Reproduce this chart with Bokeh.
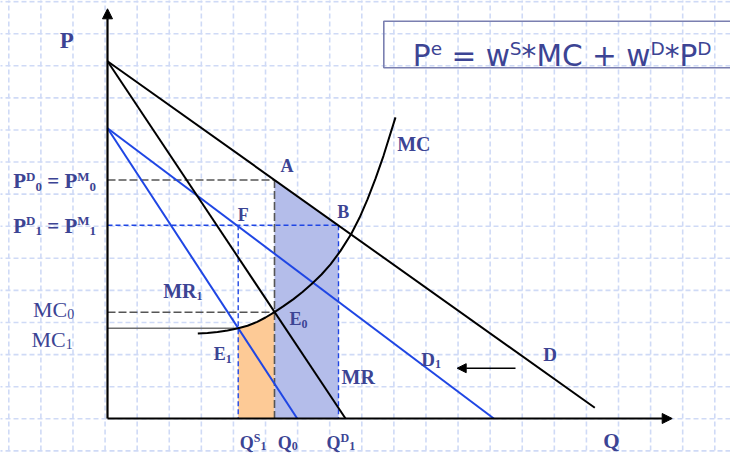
import numpy as np
from bokeh.plotting import figure
from bokeh.models import Range1d, Arrow, NormalHead
from bokeh.core.properties import value
from bokeh.embed import file_html
from bokeh.resources import INLINE

# ---------------- data (quantity on x, price on y; arbitrary units) ----------------
D_x = [0.0, 487.3]
D_y = [357.3, 10.7]
MR_x = [0.0, 238.0]
MR_y = [357.3, 0.0]
D1_x = [0.0, 386.3]
D1_y = [290.3, 0.0]
MR1_x = [0.0, 189.7]
MR1_y = [290.3, 0.0]
MC_x = [90.3, 100, 110, 120, 130.7, 140, 149.7, 158, 167, 176, 186, 195, 204.7,
        214, 223, 233, 243.7, 252, 260, 268, 276, 288]
MC_y = [85.0, 85.6, 86.4, 88.0, 90.3, 92.8, 96.6, 101.0, 106.3, 112.4, 119.4, 126.5, 135.0,
        144.0, 154.1, 167.6, 184.5, 200.7, 219.1, 239.9, 262.7, 301.1]

Q0 = 167.0     # initial quantity
QS1 = 130.7    # supplied quantity after shift
QD1 = 231.0    # demanded quantity after shift
P1 = 193.3     # new price
MC0 = 106.3
MC1 = 90.3
X_END = 564.7  # end of Q axis
Y_END = 409.7  # end of P axis
SHIFT_FROM = 408.0
SHIFT_TO = 349.7
SHIFT_Y = 50.3

TXT = "#3c4494"
BLUE = "#1f46e4"


def D_at(x):
    return float(np.interp(x, D_x, D_y))


P0 = D_at(Q0)

p = figure(width=730, height=453, x_range=Range1d(-107, 623), y_range=Range1d(-35, 418),
           output_backend="svg", toolbar_location=None, min_border=0,
           x_axis_type=None, y_axis_type=None, outline_line_color=None)
p.background_fill_color = "white"
p.border_fill_color = "white"
p.xgrid.visible = False
p.ygrid.visible = False

# background grid (style)
gx = -98.7 + 32.09 * np.arange(0, 23)
gy = 416.9 - 32.09 * np.arange(0, 15)
p.segment(x0=gx, x1=gx, y0=-40, y1=420, line_color="#cfdaf6", line_width=1.6, line_dash="5 3")
p.segment(x0=-110, x1=630, y0=gy, y1=gy, line_color="#cfdaf6", line_width=1.6, line_dash="5 3")

# shaded areas
mcx = np.array(MC_x)
mcy = np.array(MC_y)
sel = (mcx >= QS1) & (mcx <= Q0)
ox = [QS1] + list(mcx[sel]) + [Q0, Q0, QS1]
oy = [float(np.interp(QS1, MC_x, MC_y))] + list(mcy[sel]) + [float(np.interp(Q0, MC_x, MC_y)), 0, 0]
p.patch(ox, oy, fill_color="#fdca96", line_color=None)
p.patch([Q0, Q0, QD1, QD1], [0, D_at(Q0), D_at(QD1), 0], fill_color="#b4bdea", line_color=None)

# guide lines
p.line([0, Q0], [P0, P0], line_color="#555555", line_width=1.6, line_dash="8 3")
p.line([Q0, Q0], [P0, 0], line_color="#555555", line_width=1.6, line_dash="8 3")
p.line([0, Q0], [MC0, MC0], line_color="#555555", line_width=1.6, line_dash="8 3")
p.line([0, QS1], [MC1, MC1], line_color="#707070", line_width=1.6)
p.line([0, QD1], [P1, P1], line_color=BLUE, line_width=1.4, line_dash="5 3")
p.line([QS1, QS1], [P1, 0], line_color=BLUE, line_width=1.4, line_dash="5 3")
p.line([QD1, QD1], [P1, 0], line_color=BLUE, line_width=1.4, line_dash="5 3")

# curves
p.line(D1_x, D1_y, line_color=BLUE, line_width=2)
p.line(MR1_x, MR1_y, line_color=BLUE, line_width=2)
p.line(D_x, D_y, line_color="black", line_width=2)
p.line(MR_x, MR_y, line_color="black", line_width=2)
p.line(MC_x, MC_y, line_color="black", line_width=2)

# axes
p.add_layout(Arrow(end=NormalHead(size=10, fill_color="black", line_color="black"),
                   x_start=0, y_start=0, x_end=0, y_end=Y_END, line_width=2.2))
p.add_layout(Arrow(end=NormalHead(size=10, fill_color="black", line_color="black"),
                   x_start=0, y_start=0, x_end=X_END, y_end=0, line_width=2.2))
p.add_layout(Arrow(end=NormalHead(size=9, fill_color="black", line_color="black"),
                   x_start=SHIFT_FROM, y_start=SHIFT_Y, x_end=SHIFT_TO, y_end=SHIFT_Y, line_width=1.5))

# formula box
p.quad(left=[276.3], right=[640], top=[397.3], bottom=[350.7], fill_alpha=0,
       line_color="#7a7fb0", line_width=1.6)

TNR_B = {'P': .611, 'D': .722, 'M': .944, '=': .570, ' ': .25, '0': .5, '1': .5, 'S': .556,
         'Q': .778, 'E': .667, 'R': .722, 'C': .722, 'A': .722, 'B': .667, 'F': .611}
TNR = {'M': .889, 'C': .667, '0': .5, '1': .5, ' ': .25}
DJV = {'P': .603, 'e': .615, ' ': .318, '=': .838, 'w': .818, 'S': .635, '*': .5, 'M': .863,
       'C': .698, '+': .838, 'D': .770}


def rich(x, y, runs, font="Liberation Serif", style="bold", size=18, small=12,
         metrics=TNR_B, up=5, down=4.5):
    cx = x
    for txt, kind in runs:
        fs = size if kind == 'n' else small
        dy = 0 if kind == 'n' else (up if kind == 'sup' else -down)
        lead = len(txt) - len(txt.lstrip(' '))
        shown = txt.strip(' ')
        if shown:
            p.text(x=[cx + lead * metrics[' '] * fs], y=[y + dy], text=[shown],
                   text_font=value(font), text_font_style=style,
                   text_font_size=f"{fs}px", text_color=TXT, text_baseline="alphabetic",
                   text_align="left")
        cx += sum(metrics[c] for c in txt) * fs


rich(305.3, 362.3, [("P", 'n'), ("e", 'sup'), (" = w", 'n'), ("S", 'sup'), ("*MC + w", 'n'),
                    ("D", 'sup'), ("*P", 'n'), ("D", 'sup')],
     font="DejaVu Sans", style="normal", size=29.6, small=18.5, metrics=DJV, up=8)

rich(-94.3, 237.3, [("P", 'n'), ("D", 'sup'), ("0", 'sub'), (" = ", 'n'), ("P", 'n'),
                    ("M", 'sup'), ("0", 'sub')], size=21, small=13, up=5, down=5.5)
rich(-94.3, 193.0, [("P", 'n'), ("D", 'sup'), ("1", 'sub'), (" = ", 'n'), ("P", 'n'),
                    ("M", 'sup'), ("1", 'sub')], size=21, small=13, up=5, down=5.5)
rich(-74.5, 108.7, [("MC", 'n'), ("0", 'sub')], style="normal", size=22, small=14,
     metrics=TNR, down=4)
rich(-76.0, 79.0, [("MC", 'n'), ("1", 'sub')], style="normal", size=22, small=14,
     metrics=TNR, down=4)

rich(-47.7, 378.0, [("P", 'n')], size=23)
rich(495.7, -22.5, [("Q", 'n')], size=21)
rich(289.7, 274.7, [("MC", 'n')], size=20)
rich(173.0, 253.0, [("A", 'n')], size=18)
rich(229.7, 206.3, [("B", 'n')], size=18)
rich(130.3, 204.0, [("F", 'n')], size=18)
rich(182.0, 99.7, [("E", 'n'), ("0", 'sub')], size=18, small=12, down=5)
rich(106.3, 64.7, [("E", 'n'), ("1", 'sub')], size=18, small=12, down=5)
rich(55.7, 127.3, [("MR", 'n'), ("1", 'sub')], size=20, small=12, down=5)
rich(234.0, 42.0, [("MR", 'n')], size=20)
rich(313.7, 58.7, [("D", 'n'), ("1", 'sub')], size=19, small=12, down=4)
rich(435.7, 64.0, [("D", 'n')], size=19)
rich(132.3, -24.5, [("Q", 'n'), ("S", 'sup'), ("1", 'sub')], size=18, small=12, up=5, down=2.5)
rich(170.3, -24.5, [("Q", 'n'), ("0", 'sub')], size=18, small=12, down=2.5)
rich(219.0, -24.5, [("Q", 'n'), ("D", 'sup'), ("1", 'sub')], size=18, small=12, up=5, down=2.5)

open("out.html", "w").write(file_html(p, INLINE, title="Price setting"))
